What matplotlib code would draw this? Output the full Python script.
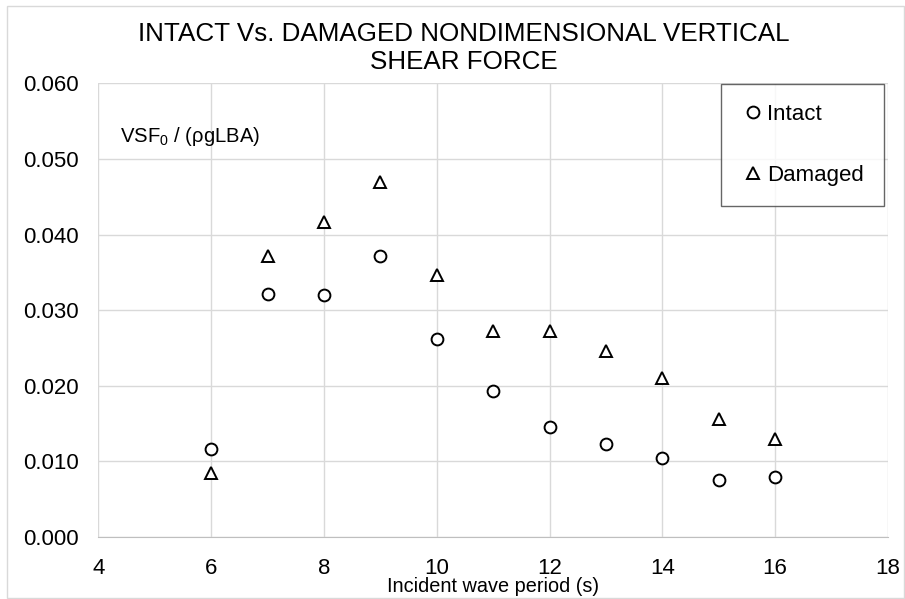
import matplotlib
matplotlib.use('Agg')
import matplotlib.pyplot as plt
from matplotlib import font_manager
from matplotlib.patches import Rectangle

plt.rcParams['font.family'] = ['Liberation Sans', 'DejaVu Sans']
plt.rcParams['mathtext.fontset'] = 'custom'
plt.rcParams['mathtext.rm'] = 'Liberation Sans'
plt.rcParams['mathtext.it'] = 'Liberation Sans'

periods = [6, 7, 8, 9, 10, 11, 12, 13, 14, 15, 16]
intact = [0.0117, 0.0321, 0.0320, 0.0371, 0.0262, 0.0193, 0.0146, 0.0123, 0.0105, 0.0076, 0.0079]
damaged = [0.0085, 0.0372, 0.0417, 0.0470, 0.0346, 0.0272, 0.0272, 0.0246, 0.0210, 0.0156, 0.0130]

x_ticks = [4, 6, 8, 10, 12, 14, 16, 18]
y_ticks = [0.0, 0.01, 0.02, 0.03, 0.04, 0.05, 0.06]

# title and x label look like a narrow face in the original
names = {f.name for f in font_manager.fontManager.ttflist}
if 'Liberation Sans Narrow' in names:
    narrow = ['Liberation Sans Narrow', 'DejaVu Sans']
    title_size, xlab_size = 22.5, 17.5
else:
    narrow = ['Liberation Sans', 'DejaVu Sans']
    title_size, xlab_size = 18.7, 14.3

fig = plt.figure(figsize=(9.05, 5.99), dpi=100)
ax = fig.add_axes([0.1086, 0.1035, 0.8726, 0.7574])

ax.plot(periods, intact, 'o', mfc='white', mec='black', mew=1.4, ms=8.5, label='Intact')
ax.plot(periods, damaged, '^', mfc='white', mec='black', mew=1.4, ms=8.5, label='Damaged')

ax.set_xlim(4, 18)
ax.set_ylim(0, 0.06)
ax.set_xticks(x_ticks)
ax.set_yticks(y_ticks)
ax.set_yticklabels([f'{v:.3f}' for v in y_ticks])
ax.tick_params(length=0, labelsize=16, colors='black')
ax.tick_params(axis='x', pad=15)
ax.tick_params(axis='y', pad=14)
ax.grid(True, color='#d9d9d9', lw=1)
ax.set_axisbelow(True)
for s in ['top', 'right', 'left']:
    ax.spines[s].set_visible(False)
ax.spines['bottom'].set_color('#bfbfbf')

ax.set_xlabel('Incident wave period (s)', fontsize=xlab_size, family=narrow, va='baseline')
ax.xaxis.set_label_coords(0.5, (537 - 592) / 453.7)

ax.text(0.0275, 0.8706, 'VSF$_0$ / (ρgLBA)', transform=ax.transAxes, fontsize=14.6,
        va='baseline')

leg = ax.legend(loc='upper right', bbox_to_anchor=(0.9949, 0.9985), frameon=True, fancybox=False,
                edgecolor='#404040', fontsize=16, handlelength=1.1, handletextpad=0.1,
                labelspacing=1.78, borderpad=0.9, borderaxespad=0)
leg.get_frame().set_linewidth(1.0)

fig.text(0.512, 0.920, 'INTACT Vs. DAMAGED NONDIMENSIONAL VERTICAL\nSHEAR FORCE',
         ha='center', va='center', fontsize=title_size, family=narrow, linespacing=1.18)

fig.patches.append(Rectangle((7 / 905, 1.5 / 599), 1 - 8 / 905, 1 - 7.5 / 599,
                             transform=fig.transFigure, fill=False,
                             edgecolor='#d9d9d9', lw=1))

fig.savefig('out.png', dpi=100)
